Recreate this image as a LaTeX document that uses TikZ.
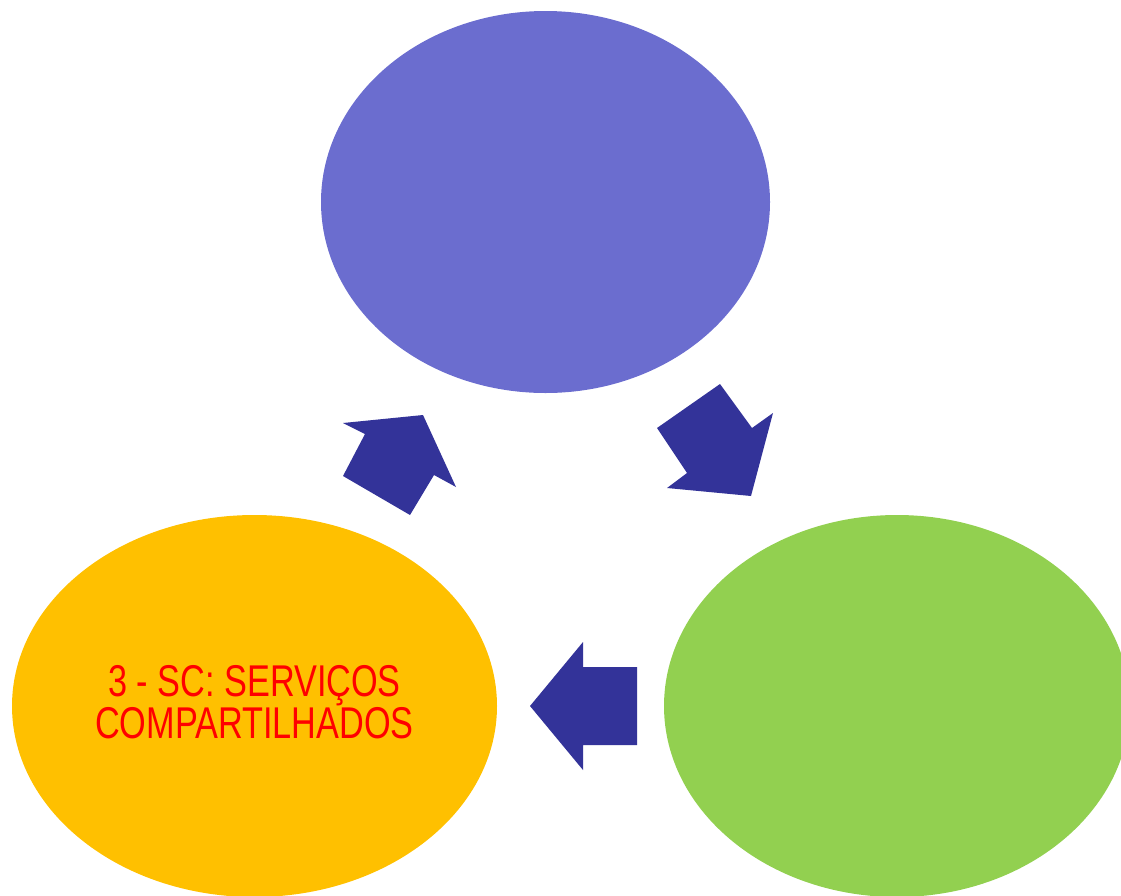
\documentclass[tikz,border=0pt]{standalone}
\usepackage{fontspec}
\newfontfamily\narrowfont[FakeStretch=0.77]{Liberation Sans}
\definecolor{topblue}{HTML}{6B6DCF}
\definecolor{gold}{HTML}{FFC000}
\definecolor{leaf}{HTML}{92D050}
\definecolor{navy}{HTML}{333399}
\definecolor{txtred}{HTML}{FF0000}
\usetikzlibrary{shapes.geometric}
\tikzset{
  blob/.style={ellipse, draw=none, inner sep=0pt},
  blockarrow/.style={fill=navy, draw=none},
  label/.style={text=txtred, font=\narrowfont\fontsize{44.5}{38}\selectfont, align=center}
}
\begin{document}
\begin{tikzpicture}[x=1pt,y=-1pt]
\useasboundingbox (0,0) rectangle (1121,895);
\begin{scope}
\clip (0,0) rectangle (1121,895);
\node[blob, fill=topblue, minimum width=449pt, minimum height=382pt] (top) at (545.5,202) {};
\node[blob, fill=gold, minimum width=485pt, minimum height=382pt] (left) at (254.5,706) {};
\node[blob, fill=leaf, minimum width=466pt, minimum height=382pt] (right) at (897,706) {};
\end{scope}
\node[label] (txt) at (254.5,702) {3 - SC: SERVIÇOS\\COMPARTILHADOS};
% top-left arrow (pointing up-right)
\fill[blockarrow] (423,415) -- (456,487) -- (434,475) -- (410,515) -- (343,476) -- (365,434) -- (343,423) -- cycle;
% top-right arrow (pointing down-right)
\fill[blockarrow] (751,496) -- (667,488) -- (687,473) -- (657,428) -- (720,384) -- (752,428) -- (773,413) -- cycle;
% bottom arrow (pointing left)
\fill[blockarrow] (530,706) -- (583,642) -- (583,667) -- (637,667) -- (637,745) -- (583,745) -- (583,770) -- cycle;
\end{tikzpicture}
\end{document}
